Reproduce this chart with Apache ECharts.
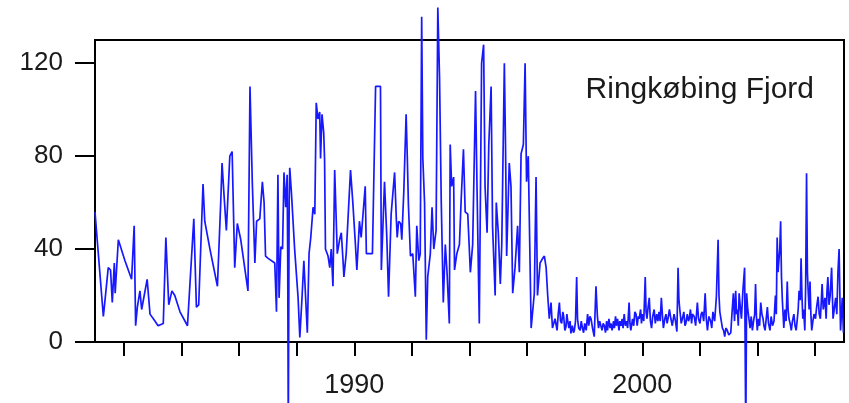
<!DOCTYPE html>
<html>
<head>
<meta charset="utf-8">
<title>Ringkøbing Fjord</title>
<script src="https://cdn.jsdelivr.net/npm/echarts@6/dist/echarts.min.js"></script>
<style>
  html, body { margin: 0; padding: 0; background: #fff; }
  #chart { width: 849px; height: 403px; }
</style>
</head>
<body>
<div id="chart"></div>
<script>
// sample dates (decimal year) and values
// 1981 - 1996
var earlyYears = [
  1981.00, 1981.07, 1981.29, 1981.38, 1981.46, 1981.54, 1981.60, 1981.67, 1981.70, 1981.81,
  1982.04, 1982.27, 1982.36, 1982.41, 1982.47, 1982.56, 1982.62, 1982.81, 1982.91, 1983.08,
  1983.19, 1983.37, 1983.46, 1983.56, 1983.67, 1983.77, 1983.95, 1984.21, 1984.43, 1984.52,
  1984.60, 1984.75, 1984.81, 1984.99, 1985.25, 1985.37, 1985.41, 1985.48, 1985.56, 1985.68,
  1985.76, 1985.85, 1985.94, 1986.06, 1986.31, 1986.38, 1986.46, 1986.55, 1986.61, 1986.72,
  1986.81, 1986.87, 1986.92, 1987.01, 1987.24, 1987.30, 1987.35, 1987.39, 1987.45, 1987.51,
  1987.56, 1987.62, 1987.67, 1987.69, 1987.71, 1987.74, 1987.76, 1987.82, 1987.93, 1988.05,
  1988.11, 1988.19, 1988.25, 1988.37, 1988.43, 1988.49, 1988.57, 1988.63, 1988.68, 1988.74,
  1988.80, 1988.83, 1988.88, 1988.94, 1988.97, 1989.00, 1989.09, 1989.15, 1989.20, 1989.26,
  1989.32, 1989.41, 1989.49, 1989.55, 1989.61, 1989.64, 1989.72, 1989.87, 1989.95, 1990.04,
  1990.09, 1990.18, 1990.24, 1990.38, 1990.42, 1990.63, 1990.74, 1990.91, 1990.94, 1991.05,
  1991.13, 1991.19, 1991.28, 1991.40, 1991.46, 1991.49, 1991.54, 1991.61, 1991.65, 1991.72,
  1991.80, 1991.84, 1991.88, 1991.95, 1992.03, 1992.12, 1992.17, 1992.24, 1992.29, 1992.34,
  1992.38, 1992.44, 1992.50, 1992.55, 1992.64, 1992.70, 1992.76, 1992.84, 1992.90, 1992.96,
  1993.02, 1993.09, 1993.16, 1993.22, 1993.30, 1993.33, 1993.38, 1993.45, 1993.48, 1993.56,
  1993.65, 1993.71, 1993.79, 1993.85, 1993.94, 1994.03, 1994.11, 1994.21, 1994.26, 1994.34,
  1994.42, 1994.49, 1994.54, 1994.61, 1994.67, 1994.75, 1994.80, 1994.89, 1994.93, 1995.00,
  1995.07, 1995.12, 1995.21, 1995.25, 1995.29, 1995.38, 1995.44, 1995.50, 1995.58, 1995.67,
  1995.73, 1995.79, 1995.87, 1995.93, 1995.98, 1996.04, 1996.14, 1996.19, 1996.25, 1996.31,
  1996.36, 1996.45, 1996.54, 1996.60, 1996.66, 1996.71, 1996.77, 1996.83, 1996.88, 1996.97
];
var earlyValues = [
  56, 45, 11, 22, 32, 31, 17, 34, 21, 44,
  35, 27, 50, 7, 15, 22, 14, 27, 12, 9,
  7, 8, 45, 16, 22, 20, 13, 7, 53, 15,
  16, 68, 52, 40, 24, 62, 77, 63, 48, 80,
  82, 32, 51, 44, 22, 110, 69, 34, 52, 53,
  69, 60, 37, 36, 34, 13, 72, 19, 41, 40,
  73, 58, 72, 35, -40, 60, 75, 64, 40, 19,
  2, 20, 35, 4, 38, 45, 58, 55, 103, 96,
  99, 79, 98, 90, 78, 40, 37, 32, 40, 24,
  74, 38, 44, 47, 35, 28, 38, 74, 60, 42,
  31, 52, 45, 67, 38, 38, 110, 110, 31, 69,
  45, 19.5, 55, 73, 53, 45, 52, 51, 44, 65,
  98, 80, 59, 37, 38, 19.5, 50, 35, 38, 140,
  79, 60, 1, 28, 38, 58, 40, 48, 144, 114,
  60, 17, 42, 30, 8, 85, 67, 71, 31, 38,
  42, 61, 83, 56, 55, 30, 42, 108, 67, 8,
  120, 128, 67, 47, 85, 110, 50, 20, 60, 47,
  25, 42, 120, 85, 37, 77, 67, 21, 32, 50,
  30, 81, 85, 120, 69, 80, 6, 6, 21, 71,
  20, 34, 36, 37, 32, 21, 10, 17, 6, 10
];

// 1997 - 2006
var lateYears = [
  1997.04, 1997.08, 1997.12, 1997.16, 1997.20, 1997.24, 1997.27, 1997.31, 1997.35, 1997.38,
  1997.40, 1997.45, 1997.49, 1997.52, 1997.57, 1997.61, 1997.64, 1997.68, 1997.72, 1997.75,
  1997.79, 1997.84, 1997.88, 1997.92, 1997.96, 1998.00, 1998.05, 1998.10, 1998.14, 1998.18,
  1998.22, 1998.27, 1998.33, 1998.39, 1998.44, 1998.48, 1998.52, 1998.56, 1998.60, 1998.64,
  1998.68, 1998.72, 1998.76, 1998.79, 1998.84, 1998.88, 1998.91, 1998.95, 1999.00, 1999.03,
  1999.07, 1999.10, 1999.14, 1999.19, 1999.22, 1999.26, 1999.30, 1999.33, 1999.37, 1999.41,
  1999.45, 1999.49, 1999.54, 1999.57, 1999.60, 1999.66, 1999.70, 1999.74, 1999.78, 1999.82,
  1999.86, 1999.89, 1999.94, 1999.97, 2000.00, 2000.05, 2000.10, 2000.13, 2000.16, 2000.20,
  2000.24, 2000.28, 2000.32, 2000.36, 2000.41, 2000.45, 2000.50, 2000.54, 2000.58, 2000.62,
  2000.66, 2000.70, 2000.73, 2000.78, 2000.82, 2000.86, 2000.89, 2000.94, 2000.99, 2001.04,
  2001.10, 2001.15, 2001.20, 2001.24, 2001.27, 2001.30, 2001.35, 2001.39, 2001.44, 2001.48,
  2001.51, 2001.56, 2001.60, 2001.63, 2001.67, 2001.71, 2001.74, 2001.80, 2001.85, 2001.91,
  2001.95, 2002.00, 2002.04, 2002.08, 2002.13, 2002.18, 2002.22, 2002.26, 2002.31, 2002.37,
  2002.41, 2002.45, 2002.51, 2002.57, 2002.63, 2002.66, 2002.69, 2002.74, 2002.78, 2002.82,
  2002.86, 2002.90, 2002.95, 2003.00, 2003.07, 2003.11, 2003.16, 2003.20, 2003.24, 2003.27,
  2003.30, 2003.33, 2003.36, 2003.40, 2003.44, 2003.49, 2003.55, 2003.59, 2003.62, 2003.66,
  2003.70, 2003.74, 2003.78, 2003.82, 2003.86, 2003.90, 2003.93, 2003.96, 2003.99, 2004.03,
  2004.07, 2004.11, 2004.15, 2004.19, 2004.22, 2004.26, 2004.30, 2004.34, 2004.38, 2004.43,
  2004.47, 2004.52, 2004.57, 2004.62, 2004.65, 2004.68, 2004.71, 2004.74, 2004.77, 2004.80,
  2004.83, 2004.86, 2004.89, 2004.91, 2004.95, 2004.99, 2005.03, 2005.06, 2005.09, 2005.13,
  2005.17, 2005.21, 2005.26, 2005.30, 2005.34, 2005.38, 2005.41, 2005.44, 2005.48, 2005.51,
  2005.54, 2005.57, 2005.60, 2005.64, 2005.67, 2005.70, 2005.73, 2005.76, 2005.79, 2005.82,
  2005.85, 2005.88, 2005.92, 2005.96, 2006.01, 2006.05, 2006.10, 2006.14, 2006.18, 2006.21,
  2006.24, 2006.28, 2006.34, 2006.38, 2006.41, 2006.44, 2006.48, 2006.52, 2006.57, 2006.62,
  2006.66, 2006.71, 2006.75, 2006.79, 2006.83, 2006.86, 2006.88, 2006.91, 2006.94, 2006.98
];
var lateValues = [
  5, 12, 17, 9, 8, 13, 11, 5, 6.6, 12,
  10, 6, 9, 3.7, 7, 4, 5, 9, 28, 10,
  6, 5, 9, 6, 4, 8, 5, 12, 7, 11,
  10, 6, 2.3, 24, 11, 6, 9, 9, 5, 8,
  7, 4, 9, 5, 10, 6, 8, 5, 9, 6,
  11, 7, 10, 5, 9, 7, 10, 6, 12, 7,
  9, 6, 17, 8, 5, 10, 7, 13, 12, 7,
  11, 10, 14, 8, 12, 9, 28, 13, 10, 15,
  19, 9, 6, 11, 14, 8, 12, 9, 13, 9,
  19, 11, 6, 10, 12, 8, 10, 14, 10, 7,
  12, 9, 4.5, 32, 18, 14, 8, 10, 13, 7,
  8, 12, 9, 10, 14, 8, 12, 11, 7, 17,
  10, 8, 12, 13, 9, 21, 10, 5, 11, 9,
  6, 13, 9, 19.5, 44, 20, 13, 9, 6, 5,
  2.3, 6, 5, 3, 4, 12, 21, 9, 22, 12,
  14, 7, 21, 15, 10, 22, 32, -40, 21, 14,
  10, 6, 11, 5, 9, 12, 25, 11, 5, 10,
  7, 17, 12, 10, 7, 5, 10, 15, 8, 5,
  11, 7, 9, 20, 12, 45, 30, 35, 40, 52,
  28, 18, 11, 6, 14, 9, 26, 14, 10, 8,
  5, 9, 12, 7, 5, 10, 14, 22, 18, 36,
  20, 10, 14, 5, 25, 72.6, 30, 21, 14, 26,
  12, 5, 9, 12, 10, 15, 19.5, 12, 10, 17,
  25, 14, 19, 10, 22, 28, 16, 20, 32, 10,
  14, 19, 12, 30, 40, 18, 5, 12, 19, 4
];

var yTicks = [0, 40, 80, 120];
var xTicks = [1982, 1984, 1986, 1988, 1990, 1992, 1994, 1996, 1998, 2000, 2002, 2004, 2006];
var xLabels = [1990, 2000];
var stationName = 'Ringkøbing Fjord';

var seriesData = [];
function addPoints(ys, vs) {
  var n = Math.min(ys.length, vs.length);
  for (var i = 0; i < n; i++) {
    seriesData.push([ys[i], vs[i]]);
  }
}
addPoints(earlyYears, earlyValues);
addPoints(lateYears, lateValues);

var textColor = '#1a1a1a';
var fontFam = '"Liberation Sans", Arial, sans-serif';

var option = {
  animation: false,
  backgroundColor: '#fff',
  title: {
    text: stationName,
    right: 30,
    top: 70,
    textStyle: { fontFamily: fontFam, fontSize: 30, fontWeight: 'normal', color: textColor }
  },
  grid: {
    left: 95, right: 5, top: 40, bottom: 61,
    show: true, borderColor: '#000', borderWidth: 2, backgroundColor: 'transparent'
  },
  xAxis: {
    type: 'value',
    min: 1981,
    max: 2007,
    splitLine: { show: false },
    axisLine: { show: true, onZero: false, lineStyle: { color: '#000', width: 2 } },
    axisTick: { show: true, length: 14, customValues: xTicks, lineStyle: { color: '#000', width: 2 } },
    axisLabel: {
      customValues: xLabels,
      margin: 30,
      fontFamily: fontFam, fontSize: 27, color: textColor,
      formatter: function (v) { return String(Math.round(v)); }
    }
  },
  yAxis: {
    type: 'value',
    min: 0,
    max: 130,
    splitLine: { show: false },
    axisLine: { show: true, lineStyle: { color: '#000', width: 2 } },
    axisTick: { show: true, length: 20, customValues: yTicks, lineStyle: { color: '#000', width: 2 } },
    axisLabel: {
      customValues: yTicks,
      margin: 32,
      fontFamily: fontFam, fontSize: 26, color: textColor
    }
  },
  series: [{
    type: 'line',
    data: seriesData,
    showSymbol: false,
    clip: false,
    lineStyle: { color: '#1818ff', width: 1.7 }
  }]
};

var myChart = echarts.init(document.getElementById('chart'));
myChart.setOption(option);
</script>
</body>
</html>
